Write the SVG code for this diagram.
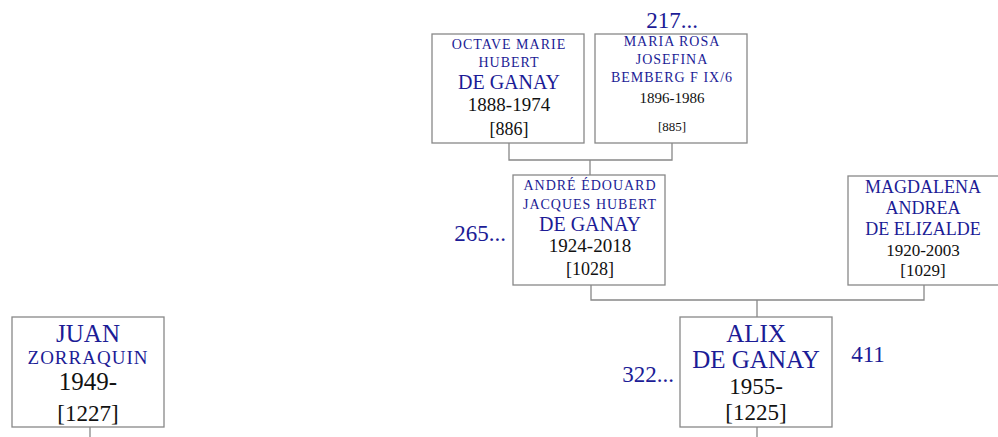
<svg xmlns="http://www.w3.org/2000/svg" width="998" height="437" viewBox="0 0 998 437" font-family="'Liberation Serif', 'DejaVu Serif', serif">
<style>
.box{fill:#fff;stroke:#888;stroke-width:1.3}
.ln{fill:none;stroke:#888;stroke-width:1.3}
text{text-anchor:middle}
.n{fill:#1c1c96}
.s{letter-spacing:1px}
.d{fill:#111}
.num{fill:#1c1c96;font-size:23px}
</style>
<rect width="998" height="437" fill="#fff"/>
<g id="connectors">
<path class="ln" d="M509 143V160H672V143M590 160V175"/>
<path class="ln" d="M591 285V300H924V285M757 300V317"/>
<path class="ln" d="M757 427V437"/>
<path class="ln" d="M90 427V437"/>
</g>
<g id="octave">
<rect class="box" x="432" y="34" width="152" height="109"/>
<text class="n s" x="509" y="49" font-size="14">OCTAVE MARIE</text>
<text class="n s" x="509" y="67" font-size="14">HUBERT</text>
<text class="n" x="509" y="89" font-size="20">DE GANAY</text>
<text class="d" x="509" y="111" font-size="19">1888-1974</text>
<text class="d" x="509" y="135" font-size="18">[886]</text>
</g>
<g id="maria">
<rect class="box" x="595" y="34" width="152" height="109"/>
<text class="n s" x="672" y="46" font-size="14">MARIA ROSA</text>
<text class="n s" x="672" y="64" font-size="14">JOSEFINA</text>
<text class="n s" x="672" y="82" font-size="14">BEMBERG F IX/6</text>
<text class="d" x="672" y="103" font-size="15">1896-1986</text>
<text class="d" x="672" y="131" font-size="13">[885]</text>
</g>
<text class="num" x="672" y="28">217...</text>
<g id="andre">
<rect class="box" x="513" y="175" width="152" height="110"/>
<text class="n s" x="590" y="190" font-size="14">ANDRÉ ÉDOUARD</text>
<text class="n s" x="590" y="209" font-size="14">JACQUES HUBERT</text>
<text class="n" x="590" y="231" font-size="20">DE GANAY</text>
<text class="d" x="590" y="252" font-size="19">1924-2018</text>
<text class="d" x="590" y="275" font-size="18">[1028]</text>
</g>
<text class="num" x="480" y="241">265...</text>
<g id="magdalena">
<rect class="box" x="848" y="176" width="152" height="109"/>
<text class="n" x="923" y="193" font-size="18">MAGDALENA</text>
<text class="n" x="923" y="214" font-size="18">ANDREA</text>
<text class="n" x="923" y="235" font-size="18">DE ELIZALDE</text>
<text class="d" x="923" y="256" font-size="17">1920-2003</text>
<text class="d" x="923" y="276" font-size="17">[1029]</text>
</g>
<g id="alix">
<rect class="box" x="680" y="317" width="152" height="110"/>
<text class="n" x="756" y="342" font-size="25">ALIX</text>
<text class="n" x="756" y="368" font-size="25">DE GANAY</text>
<text class="d" x="756" y="394" font-size="23">1955-</text>
<text class="d" x="756" y="420" font-size="23">[1225]</text>
</g>
<text class="num" x="648" y="382">322...</text>
<text class="num" x="868" y="362">411</text>
<g id="juan">
<rect class="box" x="12" y="317" width="152" height="110"/>
<text class="n" x="88" y="342" font-size="25">JUAN</text>
<text class="n s" x="88" y="364" font-size="19">ZORRAQUIN</text>
<text class="d" x="88" y="390" font-size="25">1949-</text>
<text class="d" x="88" y="421" font-size="23">[1227]</text>
</g>
</svg>
